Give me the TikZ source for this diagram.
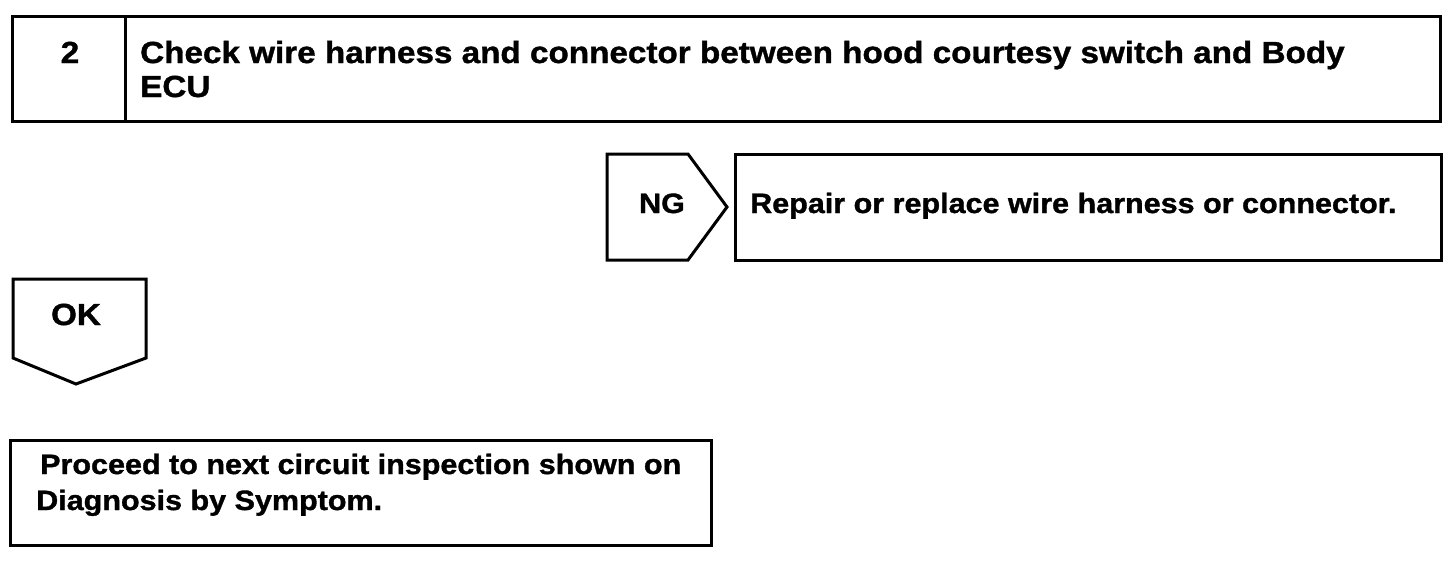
\documentclass[tikz,border=0pt]{standalone}
\usepackage{fontspec}
\setmainfont[FakeStretch=1.09,BoldFeatures={FakeBold=1.2}]{Liberation Sans}
\begin{document}
\begin{tikzpicture}[x=1pt,y=-1pt,
  shapeline/.style={line width=3pt,line join=miter},
  txt/.style={inner sep=0pt,anchor=base west,font=\fontsize{28}{34}\selectfont\bfseries},
  bigtxt/.style={txt,font=\fontsize{30.5}{36}\selectfont\bfseries}]
\useasboundingbox (0,0) rectangle (1456,574);
% top step box
\draw[shapeline] (12,16) rectangle (1440,121);
\draw[shapeline] (125,16) -- (125,121);
\node[bigtxt,anchor=base] (num) at (70,63) {2};
\node[bigtxt] (title1) at (140,63) {Check wire harness and connector between hood courtesy switch and Body};
\node[bigtxt] (title2) at (140,97) {ECU};
% NG pentagon
\draw[shapeline] (607,154) -- (688,154) -- (727,207) -- (688,260) -- (607,260) -- cycle;
\node[txt,anchor=base] (ng) at (662,213) {NG};
% repair box
\draw[shapeline] (735,154) rectangle (1441,260);
\node[txt] (repair) at (750,213) {Repair or replace wire harness or connector.};
% OK pentagon
\draw[shapeline] (13,279) -- (146,279) -- (146,358) -- (76,384) -- (13,358) -- cycle;
\node[bigtxt,anchor=base] (ok) at (76,325) {OK};
% bottom box
\draw[shapeline] (10,440) rectangle (711,545);
\node[txt] (next1) at (40,474) {Proceed to next circuit inspection shown on};
\node[txt] (next2) at (36,510) {Diagnosis by Symptom.};
\end{tikzpicture}
\end{document}
